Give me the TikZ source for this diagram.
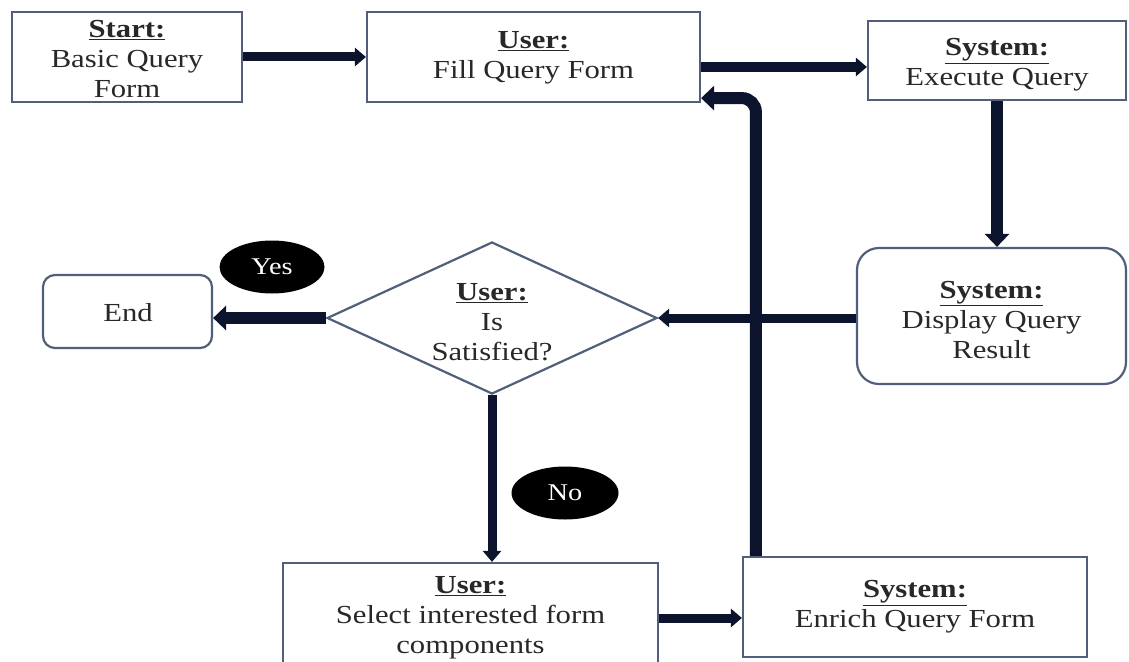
\documentclass[tikz,border=0pt]{standalone}
\usepackage{fontspec}
\setmainfont{Liberation Serif}[FakeStretch=1.18]
\usetikzlibrary{shapes.geometric,arrows.meta,calc}
\definecolor{arr}{RGB}{12,20,45}
\definecolor{bord}{RGB}{80,95,122}
\definecolor{txt}{RGB}{40,40,40}
\begin{document}
\begin{tikzpicture}[x=1pt,y=-1pt,
 box/.style={draw=bord,line width=2.2pt,fill=white,inner sep=0pt},
 rbox/.style={box,rounded corners=22pt},
 lbl/.style={align=center,text=txt,font=\fontsize{26}{30}\selectfont,inner sep=0pt},
 tag/.style={ellipse,fill=black,text=white,inner sep=0pt,font=\fontsize{24}{28}\selectfont},
 flow/.style={draw=arr,line width=9pt,-{Triangle[length=11pt,width=18pt]}},
 bigflow/.style={draw=arr,line width=12pt,-{Triangle[length=13pt,width=24pt]}}
]
\useasboundingbox[fill=white] (0,0) rectangle (1129,661);

% boxes
\node[box,minimum width=230pt,minimum height=90pt] (start) at (127,57) {};
\node[lbl] (startT) at (127,59) {\underline{\textbf{Start:}}\\Basic Query\\Form};

\node[box,minimum width=333pt,minimum height=90pt] (fill) at (533.5,57) {};
\node[lbl] (fillT) at (533.5,58) {\underline{\textbf{User:}}\\Fill Query Form};

\node[box,minimum width=258pt,minimum height=79pt] (exec) at (997,60.5) {};
\node[lbl] (execT) at (997,65) {\underline{\textbf{System:}}\\Execute Query};

\node[rbox,minimum width=269pt,minimum height=136pt] (display) at (991.5,316) {};
\node[lbl] (displayT) at (991.5,320) {\underline{\textbf{System:}}\\Display Query\\Result};

\node[diamond,draw=bord,line width=2.2pt,fill=white,inner sep=0pt,minimum width=330pt,minimum height=152pt] (dia) at (492,318) {};
\node[lbl] (diaT) at (492,322) {\underline{\textbf{User:}}\\Is\\Satisfied?};

\node[box,rounded corners=12pt,minimum width=169pt,minimum height=73pt] (end) at (127.5,311.5) {};
\node[lbl] (endT) at (128,313) {End};

\node[box,minimum width=375pt,minimum height=110pt] (select) at (470.5,618) {};
\node[lbl] (selectT) at (470.5,618) {\underline{\textbf{User:}}\\Select interested form\\components};

\node[box,minimum width=344pt,minimum height=100pt] (enrich) at (915,607) {};
\node[lbl] (enrichT) at (915,607) {\underline{\textbf{System:}}\\Enrich Query Form};

\node[tag,minimum width=105pt,minimum height=53pt] (yes) at (272,267) {Yes};
\node[tag,minimum width=107pt,minimum height=53pt] (no) at (565,493) {No};

% connectors
\draw[flow] (start.east) -- (fill.west);
\draw[flow] ([yshift=-10pt]fill.east) -- ([yshift=-10pt]fill.east -| exec.west);
\draw[bigflow] (exec.south) -- (exec.south |- display.north);
\draw[flow] (display.west |- dia.east) -- (dia.east);
\draw[bigflow] (dia.west) -- (dia.west -| end.east);
\draw[flow] (dia.south) -- (dia.south |- select.north);
\draw[flow] (select.east) -- (select.east -| enrich.west);
\draw[bigflow,rounded corners=14pt] ([xshift=14pt]enrich.north west) |- ([yshift=5pt]fill.south east);
\end{tikzpicture}
\end{document}
